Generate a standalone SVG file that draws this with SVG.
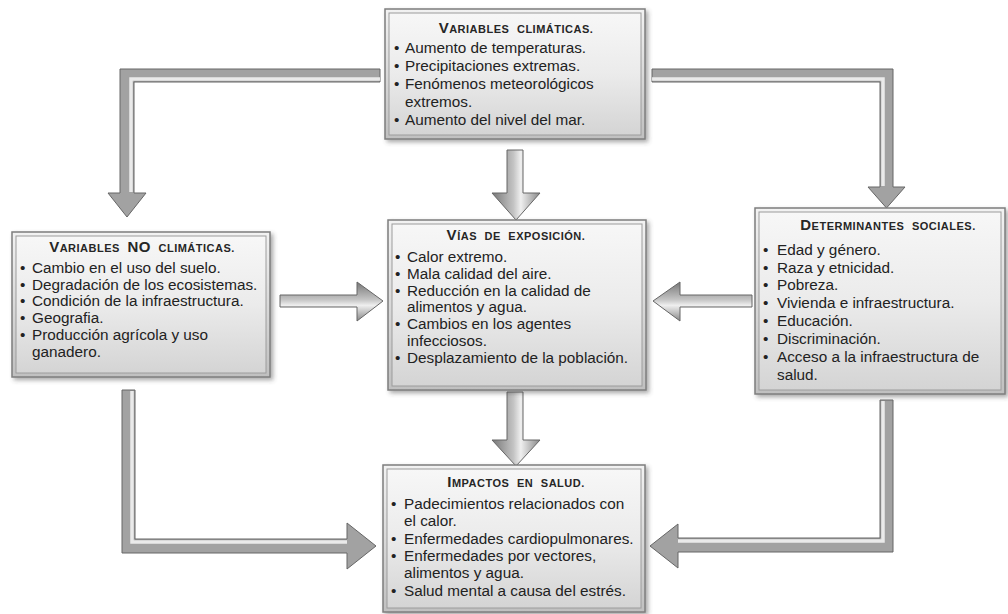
<svg xmlns="http://www.w3.org/2000/svg" width="1008" height="614" viewBox="0 0 1008 614">
  <style>
    .body { font-family: "Liberation Sans", Arial, sans-serif; font-size: 15.3px; fill: #222; }
    .title { font-family: "Liberation Sans", Arial, sans-serif; font-weight: bold; fill: #262626; letter-spacing: 0.5px; word-spacing: 4px; }
    .big { font-size: 15px; }
    .sm { font-size: 11px; }
    .frame { fill: url(#frameGrad); stroke: #7e7e7e; stroke-width: 1.5; filter: url(#shadow); }
    .face { fill: url(#faceGrad); stroke: #9c9c9c; stroke-width: 1; }
    .elbow { fill: #a2a2a2; stroke: #666; stroke-width: 1; stroke-linejoin: round; }
    .shine { fill: none; stroke: #f2f2f2; stroke-width: 3.5; stroke-opacity: 0.9; stroke-linejoin: miter; }
    .vArrow { fill: url(#vGrad); stroke: #666; stroke-width: 1; }
    .hArrow { fill: url(#hGrad); stroke: #666; stroke-width: 1; }
  </style>
  <defs>
    <linearGradient id="frameGrad" x1="0" y1="0" x2="0" y2="1">
      <stop offset="0" stop-color="#f2f2f2"/>
      <stop offset="1" stop-color="#c0c0c0"/>
    </linearGradient>
    <linearGradient id="faceGrad" x1="0" y1="0" x2="0" y2="1">
      <stop offset="0" stop-color="#f7f7f7"/>
      <stop offset="0.5" stop-color="#ebebeb"/>
      <stop offset="1" stop-color="#d4d4d4"/>
    </linearGradient>
    <linearGradient id="vGrad" x1="0" y1="0" x2="1" y2="0">
      <stop offset="0" stop-color="#777"/>
      <stop offset="0.45" stop-color="#c4c4c4"/>
      <stop offset="0.6" stop-color="#efefef"/>
      <stop offset="1" stop-color="#888"/>
    </linearGradient>
    <linearGradient id="hGrad" x1="0" y1="0" x2="0" y2="1">
      <stop offset="0" stop-color="#777"/>
      <stop offset="0.45" stop-color="#c4c4c4"/>
      <stop offset="0.6" stop-color="#efefef"/>
      <stop offset="1" stop-color="#888"/>
    </linearGradient>
    <filter id="shadow" x="-5%" y="-5%" width="115%" height="115%">
      <feDropShadow dx="2.5" dy="2.5" stdDeviation="2" flood-color="#444" flood-opacity="0.45"/>
    </filter>
  </defs>

  <!-- connectors -->
  <g id="connectors">
    <!-- climate variables to non-climate variables -->
    <polygon class="elbow" points="380,69 120,69 120,193 108,193 127,217 146,193 134,193 134,82 380,82"/>
    <polyline class="shine" points="380,79 131,79 131,192"/>
    <!-- climate variables to social determinants -->
    <polygon class="elbow" points="652,69 893,69 893,187 905,187 886.5,208 868,187 880,187 880,82 652,82"/>
    <polyline class="shine" points="652,79 883,79 883,186"/>
    <!-- climate variables to exposure pathways -->
    <polygon class="vArrow" points="507,150 523,150 523,193 540,193 516,220 492,193 507,193"/>
    <!-- exposure pathways to health impacts -->
    <polygon class="vArrow" points="507,392 523,392 523,440 540,440 516,466 492,440 507,440"/>
    <!-- non-climate variables to exposure pathways -->
    <polygon class="hArrow" points="280,295 357,295 357,282 383,301 357,321 357,307 280,307"/>
    <!-- social determinants to exposure pathways -->
    <polygon class="hArrow" points="752,295 680,295 680,282 653,301 680,321 680,307 752,307"/>
    <!-- non-climate variables to health impacts -->
    <polygon class="elbow" points="122,390 135,390 135,539 347,539 347,523 376,546 347,569 347,553 122,553"/>
    <polyline class="shine" points="132,391 132,542 347,542"/>
    <!-- social determinants to health impacts -->
    <polygon class="elbow" points="893,400 880,400 880,538 678,538 678,524 650,546 678,568 678,552 893,552"/>
    <polyline class="shine" points="883,401 883,541 678,541"/>
  </g>

  <!-- climate variables -->
  <g id="variables-climaticas">
    <rect class="frame" x="385" y="9" width="260" height="130"/>
    <rect class="face" x="389" y="13" width="252" height="122"/>
    <text class="title" x="516" y="33" text-anchor="middle"><tspan class="big">V</tspan><tspan class="sm">ARIABLES CLIMÁTICAS.</tspan></text>
    <g class="body">
      <text x="394" y="53">•</text><text x="405" y="53">Aumento de temperaturas.</text>
      <text x="394" y="71">•</text><text x="405" y="71">Precipitaciones extremas.</text>
      <text x="394" y="89">•</text><text x="405" y="89">Fenómenos meteorológicos</text>
      <text x="405" y="107">extremos.</text>
      <text x="394" y="125">•</text><text x="405" y="125">Aumento del nivel del mar.</text>
    </g>
  </g>

  <!-- non-climate variables -->
  <g id="variables-no-climaticas">
    <rect class="frame" x="12" y="232" width="258" height="145"/>
    <rect class="face" x="16" y="236" width="250" height="137"/>
    <text class="title" x="142" y="252" text-anchor="middle"><tspan class="big">V</tspan><tspan class="sm">ARIABLES </tspan><tspan class="big">NO</tspan><tspan class="sm"> CLIMÁTICAS.</tspan></text>
    <g class="body">
      <text x="20" y="273">•</text><text x="32" y="273">Cambio en el uso del suelo.</text>
      <text x="20" y="290">•</text><text x="32" y="290">Degradación de los ecosistemas.</text>
      <text x="20" y="306">•</text><text x="32" y="306">Condición de la infraestructura.</text>
      <text x="20" y="323">•</text><text x="32" y="323">Geografia.</text>
      <text x="20" y="340">•</text><text x="32" y="340">Producción agrícola y uso</text>
      <text x="32" y="357">ganadero.</text>
    </g>
  </g>

  <!-- exposure pathways -->
  <g id="vias-de-exposicion">
    <rect class="frame" x="388" y="220" width="258" height="170"/>
    <rect class="face" x="392" y="224" width="250" height="162"/>
    <text class="title" x="516" y="240" text-anchor="middle"><tspan class="big">V</tspan><tspan class="sm">ÍAS DE EXPOSICIÓN.</tspan></text>
    <g class="body">
      <text x="395" y="262">•</text><text x="407" y="262">Calor extremo.</text>
      <text x="395" y="279">•</text><text x="407" y="279">Mala calidad del aire.</text>
      <text x="395" y="296">•</text><text x="407" y="296">Reducción en la calidad de</text>
      <text x="407" y="312">alimentos y agua.</text>
      <text x="395" y="329">•</text><text x="407" y="329">Cambios en los agentes</text>
      <text x="407" y="346">infecciosos.</text>
      <text x="395" y="363">•</text><text x="407" y="363">Desplazamiento de la población.</text>
    </g>
  </g>

  <!-- social determinants -->
  <g id="determinantes-sociales">
    <rect class="frame" x="755" y="208" width="250" height="186"/>
    <rect class="face" x="759" y="212" width="242" height="178"/>
    <text class="title" x="888" y="230" text-anchor="middle"><tspan class="big">D</tspan><tspan class="sm">ETERMINANTES SOCIALES.</tspan></text>
    <g class="body">
      <text x="763" y="255">•</text><text x="777" y="255">Edad y género.</text>
      <text x="763" y="273">•</text><text x="777" y="273">Raza y etnicidad.</text>
      <text x="763" y="290">•</text><text x="777" y="290">Pobreza.</text>
      <text x="763" y="308">•</text><text x="777" y="308">Vivienda e infraestructura.</text>
      <text x="763" y="326">•</text><text x="777" y="326">Educación.</text>
      <text x="763" y="344">•</text><text x="777" y="344">Discriminación.</text>
      <text x="763" y="362">•</text><text x="777" y="362">Acceso a la infraestructura de</text>
      <text x="777" y="380">salud.</text>
    </g>
  </g>

  <!-- health impacts -->
  <g id="impactos-en-salud">
    <rect class="frame" x="383" y="465" width="262" height="147"/>
    <rect class="face" x="387" y="469" width="254" height="139"/>
    <text class="title" x="516" y="487" text-anchor="middle"><tspan class="big">I</tspan><tspan class="sm">MPACTOS EN SALUD.</tspan></text>
    <g class="body">
      <text x="391" y="509">•</text><text x="404" y="509">Padecimientos relacionados con</text>
      <text x="404" y="526">el calor.</text>
      <text x="391" y="544">•</text><text x="404" y="544">Enfermedades cardiopulmonares.</text>
      <text x="391" y="561">•</text><text x="404" y="561">Enfermedades por vectores,</text>
      <text x="404" y="578">alimentos y agua.</text>
      <text x="391" y="596">•</text><text x="404" y="596">Salud mental a causa del estrés.</text>
    </g>
  </g>
</svg>
